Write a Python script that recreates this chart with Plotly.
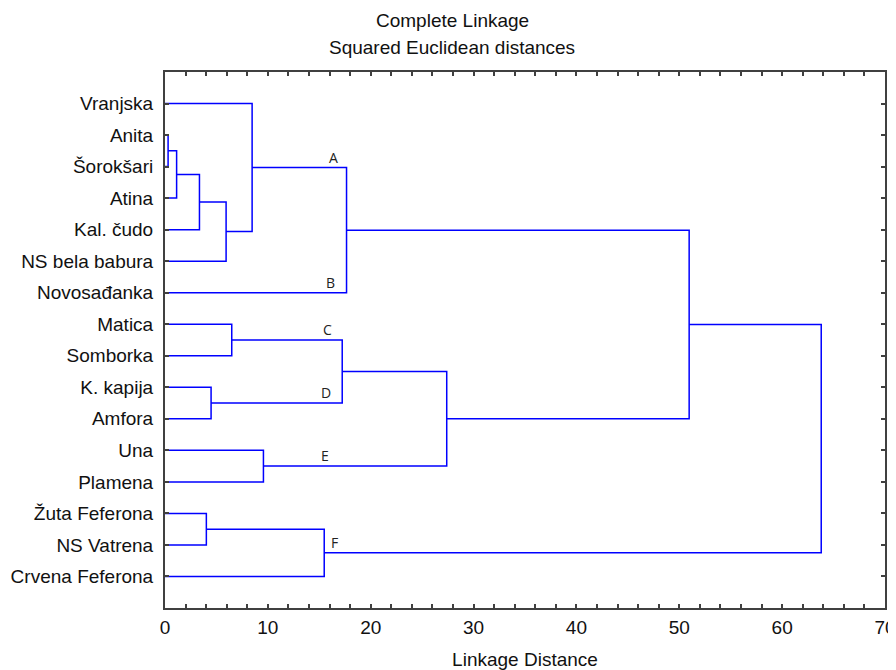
import plotly.graph_objects as go

# Leaves (top to bottom)
leaves = ["Vranjska", "Anita", "Šorokšari", "Atina", "Kal. čudo", "NS bela babura",
          "Novosađanka", "Matica", "Somborka", "K. kapija", "Amfora", "Una",
          "Plamena", "Žuta Feferona", "NS Vatrena", "Crvena Feferona"]

# Merges: cluster ids 0..15 are leaves, merge k creates cluster 16+k
merge_left = [1, 16, 17, 18, 0, 20, 7, 9, 22, 11, 24, 21, 13, 28, 27]
merge_right = [2, 3, 4, 5, 19, 6, 8, 10, 23, 12, 25, 26, 14, 15, 29]
merge_height = [0.3, 1.13, 3.35, 5.94, 8.47, 17.65, 6.49, 4.48, 17.23, 9.57,
                27.39, 50.96, 4.02, 15.48, 63.8]

# Cluster labels: text, x position, cluster whose branch they sit on
cluster_text = ["A", "B", "C", "D", "E", "F"]
cluster_x = [16.4, 16.1, 15.8, 15.7, 15.6, 16.5]
cluster_cid = [20, 6, 22, 23, 25, 29]

title_lines = ["Complete Linkage", "Squared Euclidean distances"]
x_title = "Linkage Distance"

n = len(leaves)
ypos = {i: i + 1 for i in range(n)}
xpos = {i: 0.0 for i in range(n)}
xs, ys = [], []
for k, (a, b, h) in enumerate(zip(merge_left, merge_right, merge_height)):
    cid = n + k
    ya, yb = ypos[a], ypos[b]
    xs += [xpos[a], h, h, xpos[b], None]
    ys += [ya, ya, yb, yb, None]
    ypos[cid] = (ya + yb) / 2
    xpos[cid] = h

fig = go.Figure()
fig.add_trace(go.Scatter(x=xs, y=ys, mode="lines",
                         line=dict(color="#0000ff", width=1.5),
                         hoverinfo="skip", showlegend=False))

for t, x, c in zip(cluster_text, cluster_x, cluster_cid):
    fig.add_annotation(x=x, y=ypos[c], text=t, showarrow=False,
                       yanchor="bottom", yshift=-1,
                       font=dict(family="Open Sans", size=14, color="#222"))

for txt, yy in zip(title_lines, [1.097, 1.0466]):
    fig.add_annotation(x=0.399, y=yy, xref="paper", yref="paper", text=txt,
                       showarrow=False, xanchor="center", yanchor="middle",
                       font=dict(size=19, color="#111"))

axis_col = "#404040"
fig.update_layout(
    width=888, height=662,
    margin=dict(l=157, r=11, t=64, b=62),
    paper_bgcolor="white", plot_bgcolor="white",
    font=dict(family="Liberation Sans, Arial", size=19, color="#111"),
    xaxis=dict(range=[0, 70], dtick=10, tick0=0, showgrid=False, zeroline=False,
               showline=True, linecolor=axis_col, linewidth=2, mirror="ticks",
               ticks="inside", ticklen=4, tickcolor=axis_col, tickwidth=1.5,
               minor=dict(dtick=2, ticks="inside", ticklen=4, tickcolor=axis_col,
                          tickwidth=1.5),
               ticklabelstandoff=1, automargin=False,
               title=dict(text=x_title, standoff=16, font=dict(size=19))),
    yaxis=dict(range=[17, 0], tickvals=list(range(1, n + 1)), ticktext=leaves,
               showgrid=False, zeroline=False,
               showline=True, linecolor=axis_col, linewidth=2, mirror="ticks",
               ticks="inside", ticklen=4, tickcolor=axis_col, tickwidth=1.5,
               ticklabelstandoff=6, automargin=False),
)

fig.write_html("out.html")
